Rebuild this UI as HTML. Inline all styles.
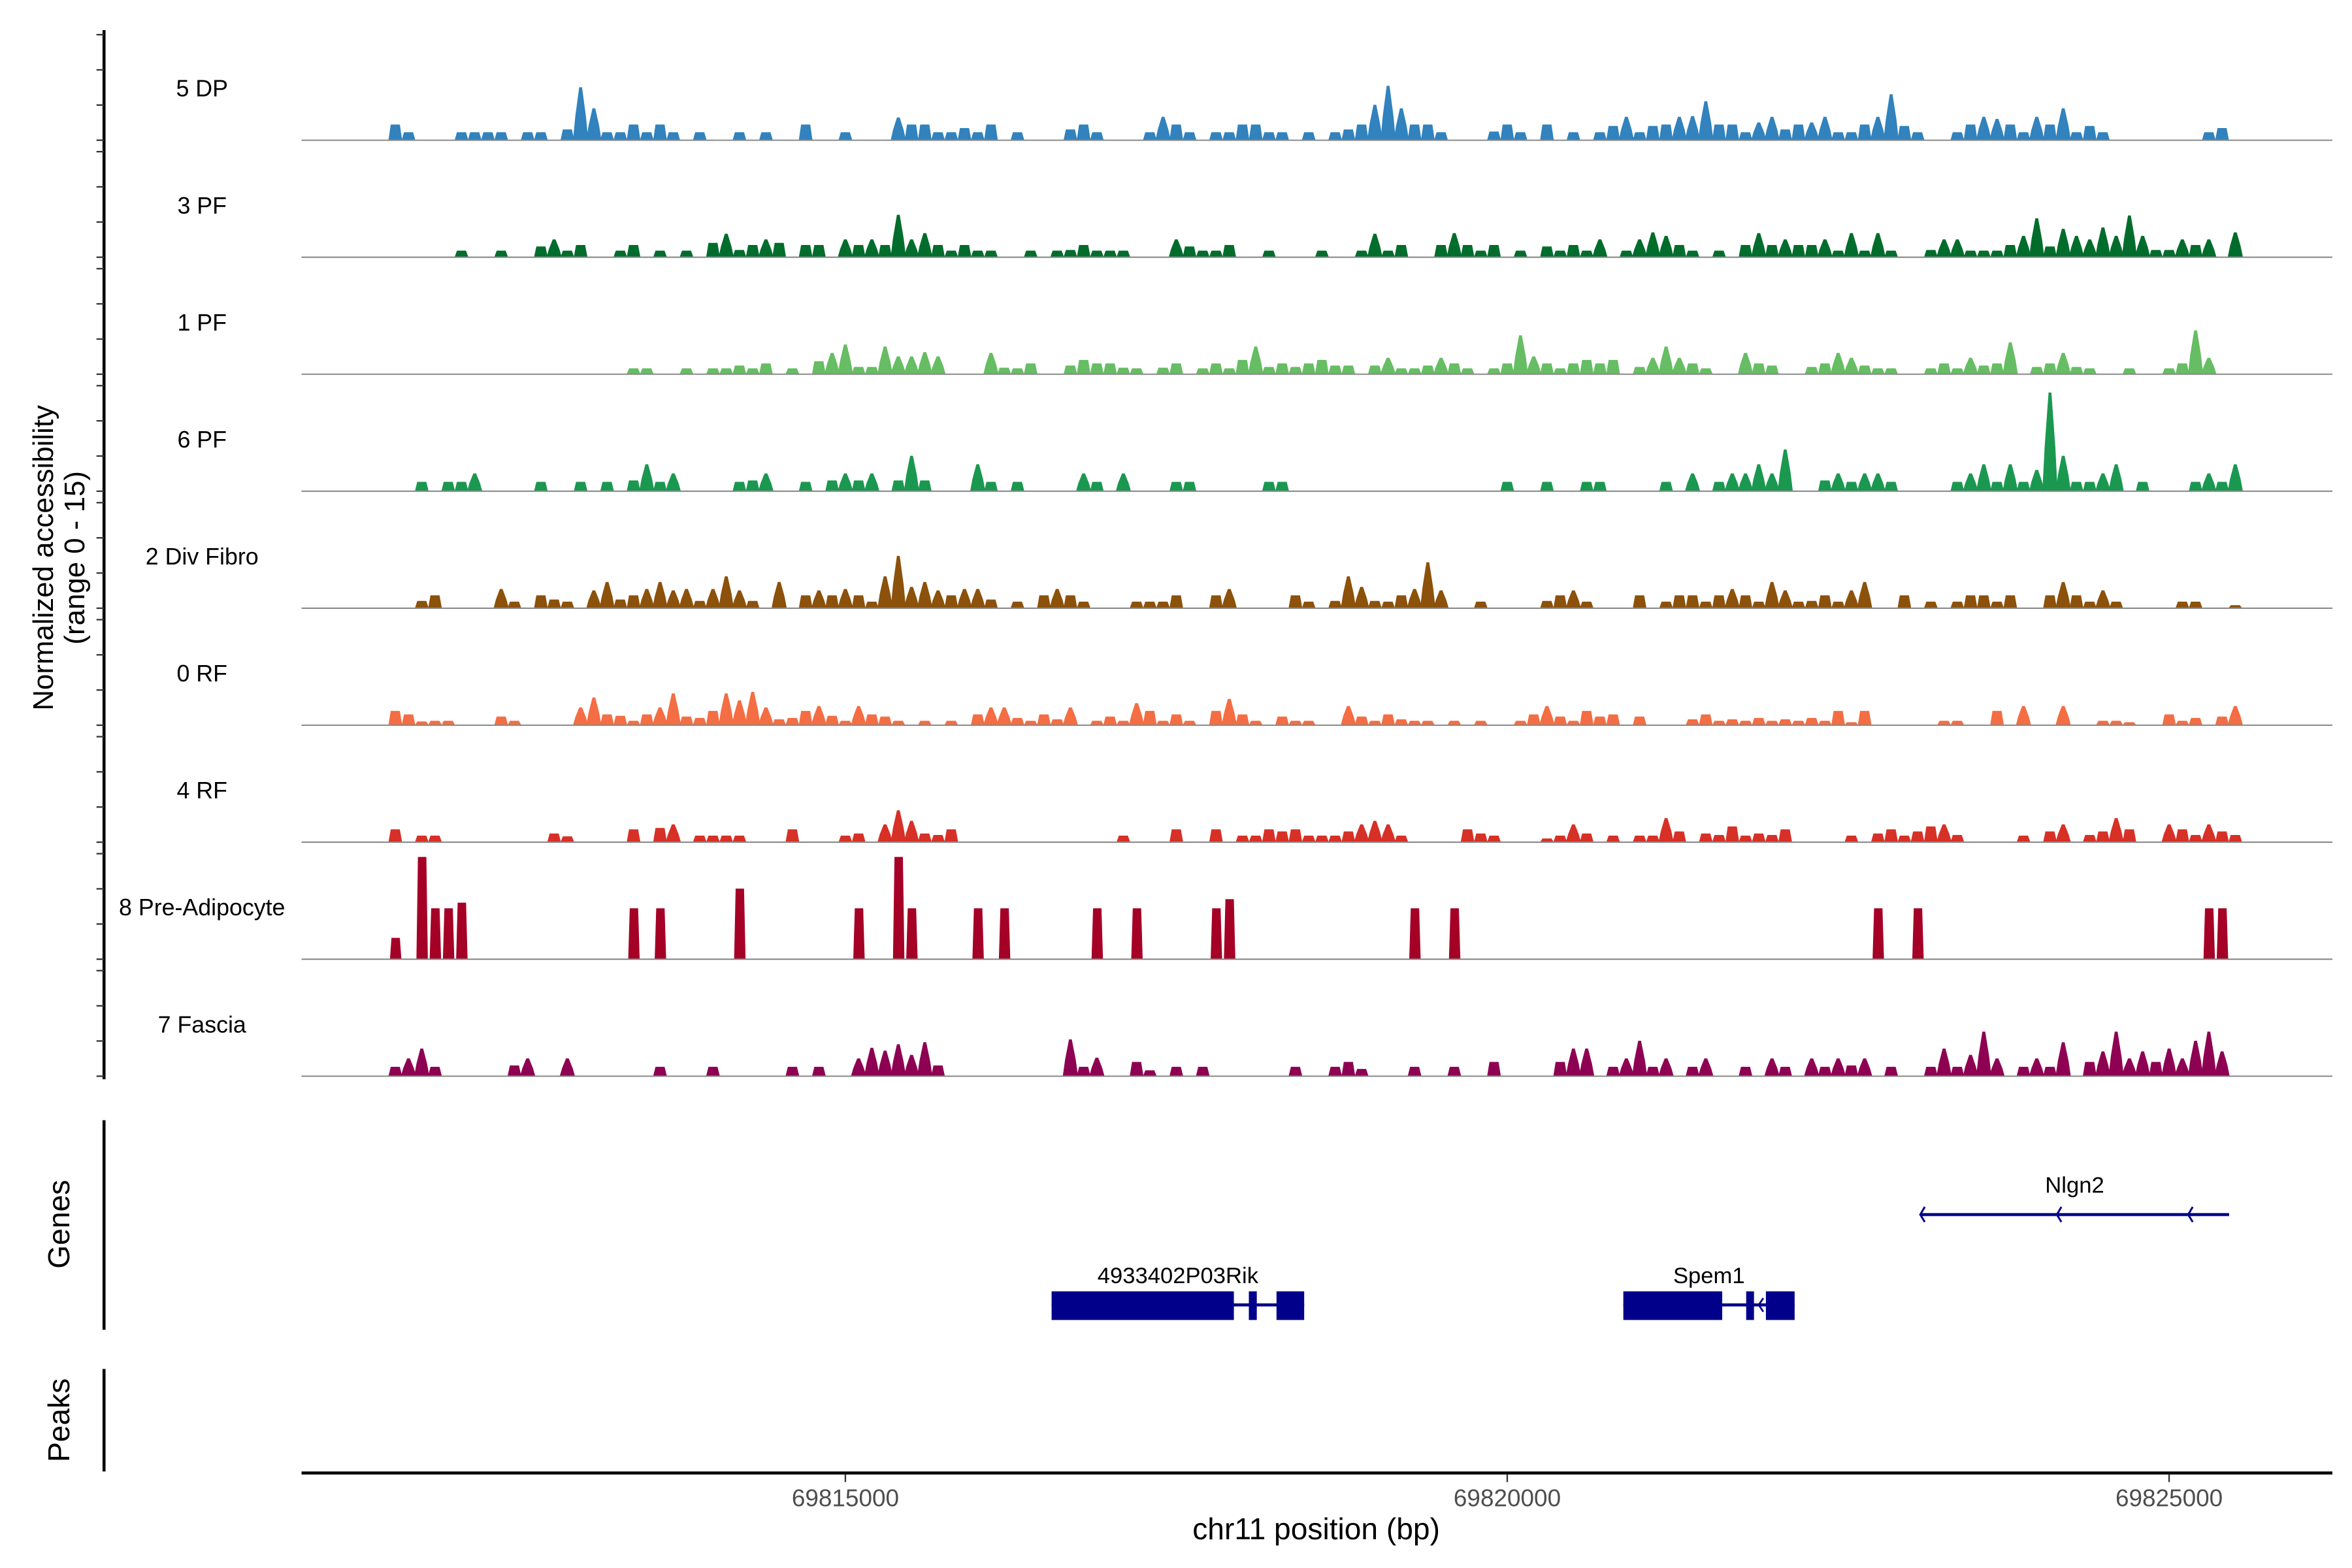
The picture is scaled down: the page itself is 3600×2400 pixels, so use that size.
<!DOCTYPE html>
<html><head><meta charset="utf-8"><style>
html,body{margin:0;padding:0;background:#fff;}
svg{display:block;font-family:"Liberation Sans",Arial,sans-serif;}
</style></head><body>
<svg id="chart" width="3600" height="2400" viewBox="0 0 1560 1040" xmlns="http://www.w3.org/2000/svg">
<rect width="1560" height="1040" fill="#fff"/>
<g id="tracks"></g>
<g id="yaxis"></g>
<text transform="translate(35,370) rotate(-90)" text-anchor="middle" font-size="19">Normalized accessibility</text>
<text transform="translate(56,370) rotate(-90)" text-anchor="middle" font-size="19">(range 0 - 15)</text>
<line x1="69" y1="743" x2="69" y2="882" stroke="#000" stroke-width="2"/>
<text transform="translate(46,812) rotate(-90)" text-anchor="middle" font-size="20">Genes</text>
<g id="genes"></g>
<line x1="69" y1="908" x2="69" y2="976" stroke="#000" stroke-width="2"/>
<text transform="translate(46,942) rotate(-90)" text-anchor="middle" font-size="20">Peaks</text>
<line x1="200" y1="977" x2="1547" y2="977" stroke="#000" stroke-width="2"/>
<g id="xaxis"></g>
<text x="873" y="1021" text-anchor="middle" font-size="20">chr11 position (bp)</text>
</svg>
<script>
// ---- data ----
const trackNames = ["5 DP","3 PF","1 PF","6 PF","2 Div Fibro","0 RF","4 RF","8 Pre-Adipocyte","7 Fascia"];
const trackColors = ["#3182bd","#006d2c","#66bd63","#1a9850","#8c510a","#f46d43","#d73027","#a50026","#8e0152"];
const binOrigin = 69811550;
const binSize = 100;
const xTicks = [69815000, 69820000, 69825000];
const yTicks = [0, 5, 10, 15];
const dp5 = [[0,2.2],[1,1.1],[5,1.1],[6,1.1],[7,1.1],[8,1.1],[10,1.1],[11,1.1],[13,1.5],[14,7.5],[15,4.5],[16,1.1],[17,1.1],[18,2.2],[19,1.1],[20,2.2],[21,1.1],[23,1.1],[26,1.1],[28,1.1],[31,2.2],[34,1.1],[38,3.2],[39,2.2],[40,2.2],[41,1.1],[42,1.1],[43,1.7],[44,1.1],[45,2.2],[47,1.1],[51,1.5],[52,2.2],[53,1.1],[57,1.1],[58,3.3],[59,2.2],[60,1.1],[62,1.1],[63,1.1],[64,2.2],[65,2.2],[66,1.1],[67,1.1],[69,1.1],[71,1.1],[72,1.5],[73,2.2],[74,5],[75,7.7],[76,4.5],[77,2.2],[78,2.2],[79,1.1],[83,1.2],[84,2.2],[85,1.1],[87,2.2],[89,1.1],[91,1.1],[92,2],[93,3.3],[94,1.1],[95,2],[96,2.2],[97,3.3],[98,3.4],[99,5.5],[100,2.2],[101,2.2],[102,1.1],[103,2.5],[104,3.3],[105,1.5],[106,2.2],[107,2.5],[108,3.3],[109,1.1],[110,1.1],[111,2.2],[112,3.3],[113,6.5],[114,2],[115,1.1],[118,1.1],[119,2.2],[120,3.3],[121,3],[122,2.2],[123,1.1],[124,3.3],[125,2.2],[126,4.5],[127,1.1],[128,2],[129,1.1],[137,1.1],[138,1.7]];
const pf3 = [[5,0.9],[8,0.9],[11,1.5],[12,2.5],[13,0.9],[14,1.7],[17,0.9],[18,1.7],[20,0.9],[22,0.9],[24,2],[25,3.3],[26,1],[27,1.7],[28,2.5],[29,2],[31,1.7],[32,1.7],[34,2.5],[35,1.7],[36,2.5],[37,1.7],[38,6],[39,2.5],[40,3.4],[41,1.7],[42,0.9],[43,1.7],[44,0.9],[45,0.9],[48,0.9],[50,0.9],[51,1],[52,1.7],[53,0.9],[54,0.9],[55,0.9],[59,2.5],[60,1.5],[61,0.9],[62,0.9],[63,1.7],[66,0.9],[70,0.9],[73,0.9],[74,3.3],[75,0.9],[76,1.7],[79,1.7],[80,3.4],[81,1.7],[82,0.9],[83,1.7],[85,0.9],[87,1.5],[88,0.9],[89,1.7],[90,0.9],[91,2.5],[93,0.9],[94,2.5],[95,3.5],[96,3],[97,1.7],[98,0.9],[100,0.9],[102,1.7],[103,3.4],[104,1.7],[105,2.5],[106,1.7],[107,1.7],[108,2.5],[109,0.9],[110,3.4],[111,0.9],[112,3.4],[113,0.9],[116,1],[117,2.5],[118,2.5],[119,0.9],[120,0.9],[121,0.9],[122,1.7],[123,3],[124,5.5],[125,1.5],[126,4],[127,3],[128,2.5],[129,4.2],[130,3],[131,5.9],[132,3],[133,1],[134,1],[135,2.5],[136,1.7],[137,2.5],[139,3.5]];
const pf1 = [[18,0.8],[19,0.8],[22,0.8],[24,0.8],[25,0.8],[26,1.2],[27,0.8],[28,1.5],[30,0.8],[32,1.8],[33,3],[34,4.2],[35,1],[36,1],[37,3.9],[38,2.5],[39,2.5],[40,3.1],[41,2.5],[45,3],[46,0.9],[47,0.8],[48,1.5],[51,1.2],[52,2],[53,1.5],[54,1.5],[55,0.9],[56,0.8],[58,0.9],[59,1.5],[61,0.8],[62,1.5],[63,0.8],[64,2],[65,3.9],[66,1],[67,1.5],[68,1],[69,1.5],[70,2],[71,1.2],[72,1.2],[74,1.2],[75,2.3],[76,0.8],[77,0.8],[78,1.2],[79,2.3],[80,1.5],[81,0.8],[83,0.8],[84,1.5],[85,5.5],[86,2.5],[87,1.5],[88,0.8],[89,1.5],[90,2],[91,1.5],[92,2],[94,1],[95,2.3],[96,3.9],[97,2.3],[98,1.5],[99,0.8],[102,3],[103,1.5],[104,1.2],[107,1],[108,1.5],[109,3],[110,2.3],[111,1.2],[112,0.8],[113,0.8],[116,0.8],[117,1.5],[118,0.8],[119,2.3],[120,1.2],[121,1.5],[122,4.5],[124,1],[125,1.5],[126,3],[127,1],[128,0.8],[131,0.8],[134,0.8],[135,1.5],[136,6.2],[137,2.3]];
const pf6 = [[2,1.3],[4,1.3],[5,1.3],[6,2.5],[11,1.3],[14,1.3],[16,1.3],[18,1.5],[19,3.8],[20,1.3],[21,2.5],[26,1.3],[27,1.5],[28,2.5],[31,1.3],[33,1.5],[34,2.5],[35,1.5],[36,2.5],[38,1.5],[39,5],[40,1.5],[44,3.8],[45,1.3],[47,1.3],[52,2.5],[53,1.3],[55,2.5],[59,1.3],[60,1.3],[66,1.3],[67,1.3],[84,1.3],[87,1.3],[90,1.3],[91,1.3],[96,1.3],[98,2.5],[100,1.3],[101,2.5],[102,2.5],[103,3.8],[104,2.5],[105,5.9],[108,1.5],[109,2.5],[110,1.3],[111,2.5],[112,2.5],[113,1.3],[118,1.3],[119,2.5],[120,3.8],[121,1.3],[122,3.8],[123,1.3],[124,3],[125,14],[126,5],[127,1.3],[128,1.3],[129,2.5],[130,3.8],[132,1.3],[136,1.3],[137,2.5],[138,1.3],[139,3.8]];
const divFibro2 = [[2,1],[3,1.8],[8,2.7],[9,0.9],[11,1.8],[12,1.2],[13,0.9],[15,2.5],[16,3.7],[17,1.2],[18,1.8],[19,2.7],[20,3.7],[21,2.5],[22,2.7],[23,1],[24,2.7],[25,4.5],[26,2.5],[27,1],[29,3.7],[31,1.8],[32,2.5],[33,1.8],[34,2.7],[35,1.8],[36,0.9],[37,4.5],[38,7.4],[39,3],[40,3.7],[41,2.5],[42,1.8],[43,2.7],[44,2.7],[45,1.2],[47,0.9],[49,1.8],[50,2.7],[51,1.8],[52,0.9],[56,0.9],[57,0.9],[58,0.9],[59,1.8],[62,1.8],[63,2.7],[68,1.8],[69,0.9],[71,1],[72,4.5],[73,3],[74,1],[75,0.9],[76,1.8],[77,2.7],[78,6.5],[79,2.5],[82,0.9],[87,1],[88,1.8],[89,2.5],[90,0.9],[94,1.8],[96,0.9],[97,1.8],[98,1.8],[99,0.9],[100,1.8],[101,2.7],[102,1.8],[103,0.9],[104,3.7],[105,2.5],[106,0.9],[107,1],[108,1.8],[109,0.9],[110,2.5],[111,3.7],[114,1.8],[116,0.9],[118,0.9],[119,1.8],[120,1.8],[121,0.9],[122,1.8],[125,1.8],[126,3.7],[127,1.8],[128,0.9],[129,2.5],[130,0.9],[135,0.9],[136,0.9],[139,0.4]];
const rf0 = [[0,2],[1,1.5],[2,0.5],[3,0.6],[4,0.6],[8,1.2],[9,0.6],[14,2.5],[15,3.9],[16,1.5],[17,1.3],[18,0.6],[19,1.5],[20,2.5],[21,4.5],[22,1.2],[23,1],[24,2],[25,4.5],[26,3.5],[27,4.7],[28,2.5],[29,0.8],[30,1],[31,2],[32,2.7],[33,1.3],[34,0.6],[35,2.7],[36,1.5],[37,1.2],[38,0.6],[40,0.6],[42,0.6],[44,1.5],[45,2.5],[46,2.5],[47,1],[48,0.6],[49,1.5],[50,0.8],[51,2.5],[53,0.6],[54,1.2],[55,0.6],[56,3.1],[57,2],[58,0.6],[59,1.5],[60,0.6],[62,2],[63,3.7],[64,1.5],[65,0.6],[67,1.2],[68,0.6],[69,0.6],[72,2.7],[73,1.2],[74,0.6],[75,1.5],[76,0.8],[77,0.6],[78,0.6],[80,0.6],[82,0.6],[85,0.6],[86,1.5],[87,2.7],[88,1.2],[89,0.6],[90,2],[91,1.2],[92,1.5],[94,1.2],[98,0.8],[99,1.5],[100,0.6],[101,0.8],[102,0.6],[103,1],[104,0.6],[105,0.8],[106,0.6],[107,1],[108,0.6],[109,2],[110,0.4],[111,2],[117,0.6],[118,0.6],[121,2],[123,2.7],[126,2.7],[129,0.6],[130,0.6],[131,0.4],[134,1.5],[135,0.6],[136,1],[138,1.2],[139,2.7]];
const rf4 = [[0,1.8],[2,0.9],[3,0.9],[12,1.2],[13,0.8],[18,1.8],[20,2],[21,2.5],[23,0.9],[24,0.9],[25,0.9],[26,0.9],[30,1.8],[34,0.9],[35,1.2],[37,2.5],[38,4.5],[39,3],[40,1.2],[41,1],[42,1.8],[55,0.9],[59,1.8],[62,1.8],[64,0.9],[65,0.9],[66,1.8],[67,1.5],[68,1.8],[69,0.9],[70,0.9],[71,0.9],[72,1.5],[73,2.5],[74,3],[75,2.5],[76,0.9],[81,1.8],[82,1.2],[83,0.9],[87,0.5],[88,0.9],[89,2.5],[90,1.2],[92,0.9],[94,0.9],[95,0.9],[96,3.4],[97,1.5],[99,1.2],[100,1],[101,2.2],[102,0.9],[103,1.2],[104,1],[105,1.8],[110,0.9],[112,1.2],[113,1.8],[114,0.9],[115,1.5],[116,2.2],[117,2.5],[118,1],[123,0.9],[125,1.5],[126,2.5],[128,1],[129,1.5],[130,3.4],[131,1.8],[134,2.5],[135,1.8],[136,1],[137,2.5],[138,1.5],[139,1]];
const preAdipo8 = [[0,3],[2,14.5],[3,7.2],[4,7.2],[5,8],[18,7.2],[20,7.2],[26,10],[35,7.2],[38,14.5],[39,7.2],[44,7.2],[46,7.2],[53,7.2],[56,7.2],[62,7.2],[63,8.5],[77,7.2],[80,7.2],[112,7.2],[115,7.2],[137,7.2],[138,7.2]];
const fascia7 = [[0,1.3],[1,2.5],[2,3.9],[3,1.3],[9,1.5],[10,2.5],[13,2.5],[20,1.3],[24,1.3],[30,1.3],[32,1.3],[35,2.5],[36,4],[37,3.6],[38,4.5],[39,3],[40,4.8],[41,1.5],[51,5.2],[52,1.3],[53,2.6],[56,2],[57,0.8],[59,1.3],[61,1.3],[68,1.3],[71,1.3],[72,2],[73,1],[77,1.3],[80,1.3],[83,2],[88,2],[89,3.9],[90,3.9],[92,1.3],[93,2.5],[94,5],[95,1.3],[96,2.5],[98,1.3],[99,2.5],[102,1.3],[104,2.5],[105,1.3],[107,2.5],[108,1.3],[109,2.5],[110,1.5],[111,2.5],[113,1.3],[116,1.3],[117,3.9],[118,1.3],[119,3],[120,6.3],[121,2.5],[123,1.3],[124,2.5],[125,1.3],[126,4.8],[128,2],[129,3.5],[130,6.3],[131,2.5],[132,3.5],[133,2],[134,3.9],[135,2.5],[136,5],[137,6.3],[138,3.5]];
const trackData = [dp5, pf3, pf1, pf6, divFibro2, rf0, rf4, preAdipo8, fascia7];
const rikExons = [[69816558,69817935],[69818048,69818108],[69818257,69818466]];
const spem1Exons = [[69820877,69821624],[69821805,69821864],[69821954,69822171]];
const nlgn2Span = [69823120, 69825453];
const nlgn2Arrows = [69823120, 69824152, 69825144];
const spem1Arrows = [69821900];

// ---- scales ----
const NS = "http://www.w3.org/2000/svg";
const xS = bp => 560.7 + (bp - 69815000) * 0.0878;
const baseY = k => 93 + k * 77.6;
const unitPx = 70 / 15;
const yS = (k, v) => baseY(k) - v * unitPx;
function mk(tag, attrs, parent){ const e=document.createElementNS(NS,tag); for(const a in attrs) e.setAttribute(a,attrs[a]); parent.appendChild(e); return e; }

const tracks = document.getElementById('tracks');
trackData.forEach((arr, k) => {
  const g = mk('g', {}, tracks);
  
  
  let d = '';
  const narrow = (k === 7);
  arr.forEach(([i, v]) => {
    const x0 = xS(binOrigin + i * binSize), x1 = xS(binOrigin + (i + 1) * binSize);
    const y = yS(k, v), b = baseY(k);
    const mid = (x0 + x1) / 2;
    if (narrow) d += `M${x0+1},${b}L${x0+2},${y}L${x1-1.5},${y}L${x1-0.5},${b}Z`;
    else if (v > 2.2) d += `M${x0-0.5},${b}L${x0+1},${b - (v*0.45)*unitPx}L${mid-0.8},${y}L${mid+0.8},${y}L${x1-1},${b - (v*0.45)*unitPx}L${x1+0.5},${b}Z`;
    else d += `M${x0},${b}L${x0+1.5},${y}L${x1-1.5},${y}L${x1},${b}Z`;
  });
  const p = mk('path', {d: d, fill: trackColors[k], stroke: trackColors[k], 'stroke-width': 0.3}, g);
  
  
  const ln = mk('line', {x1:200, x2:1547, y1:baseY(k), y2:baseY(k), stroke:'#8a8a8a', 'stroke-width':0.9}, g);
  
  
  const t = mk('text', {x:134, y:baseY(k) - 29, 'text-anchor':'middle', 'font-size':15.5, fill:'#000'}, g);
  
  
  t.textContent = trackNames[k];
});

// y axis
const ya = document.getElementById('yaxis');
const yl = mk('line', {x1:69, x2:69, y1:yS(0,15)-3, y2:baseY(8)+2, stroke:'#000', 'stroke-width':2}, ya);


trackData.forEach((arr, k) => {
  yTicks.forEach(v => {
    const tk = mk('line', {x1:64, x2:69, y1:yS(k,v), y2:yS(k,v), stroke:'#333', 'stroke-width':1}, ya);
    
    
  });
});

// x axis
const xa = document.getElementById('xaxis');
xTicks.forEach(bp => {
  const tk = mk('line', {x1:xS(bp), x2:xS(bp), y1:978, y2:983, stroke:'#333', 'stroke-width':1}, xa);
  
  
  const t = mk('text', {x:xS(bp), y:999, 'text-anchor':'middle', 'font-size':16, fill:'#4d4d4d'}, xa);
  
  
  t.textContent = bp;
});

// genes
const gg = document.getElementById('genes');
const navy = '#00008b';
function drawGene(name, exons, arrows, label){
  const g = mk('g', {}, gg);
  
  
  const s = exons[0][0], e = exons[exons.length-1][1];
  mk('line', {x1:xS(s), x2:xS(e), y1:865.5, y2:865.5, stroke:navy, 'stroke-width':2}, g);
  exons.forEach(([a,b]) => mk('rect', {x:xS(a), y:856.5, width:xS(b)-xS(a), height:19, fill:navy}, g));
  arrows.forEach(a => mk('path', {d:`M${xS(a)+3},${861}L${xS(a)},${865.5}L${xS(a)+3},${870}`, fill:'none', stroke:navy, 'stroke-width':1.2}, g));
  const t = mk('text', {x:(xS(s)+xS(e))/2, y:851, 'text-anchor':'middle', 'font-size':15, fill:'#000'}, g);
  
  
  t.textContent = label;
}
drawGene('rik', rikExons, [], '4933402P03Rik');
drawGene('spem1', spem1Exons, spem1Arrows, 'Spem1');
(function(){
  const g = mk('g', {}, gg);
  
  
  mk('line', {x1:xS(nlgn2Span[0]), x2:xS(nlgn2Span[1]), y1:805.6, y2:805.6, stroke:navy, 'stroke-width':2}, g);
  nlgn2Arrows.forEach(a => mk('path', {d:`M${xS(a)+3},${800.5}L${xS(a)},${805.6}L${xS(a)+3},${810.5}`, fill:'none', stroke:navy, 'stroke-width':1.3}, g));
  const t = mk('text', {x:(xS(nlgn2Span[0])+xS(nlgn2Span[1]))/2, y:791, 'text-anchor':'middle', 'font-size':15, fill:'#000'}, g);
  
  
  t.textContent = 'Nlgn2';
})();
</script>
</body></html>
